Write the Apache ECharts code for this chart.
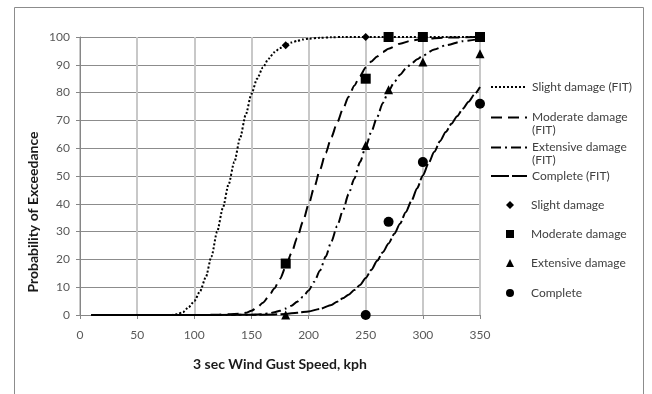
<!DOCTYPE html>
<html>
<head>
<meta charset="utf-8">
<script src="https://cdn.jsdelivr.net/npm/echarts@6/dist/echarts.min.js"></script>
<style>html,body{margin:0;padding:0;background:#fff}#c{width:652px;height:394px}</style>
</head>
<body>
<div id="c"></div>
<script>
// ---- data ----
const xTicks = [0, 50, 100, 150, 200, 250, 300, 350];
const yTicks = [0, 10, 20, 30, 40, 50, 60, 70, 80, 90, 100];
const xTitle = '3 sec Wind Gust Speed, kph';
const yTitle = 'Probability of Exceedance';

const fitNames = ['Slight damage (FIT)', 'Moderate damage (FIT)', 'Extensive damage (FIT)', 'Complete (FIT)'];
const obsNames = ['Slight damage', 'Moderate damage', 'Extensive damage', 'Complete'];

const slightFitX = [10, 50, 80, 85, 90, 95, 100, 105, 110, 115, 120, 125, 130, 135, 140, 145, 150, 155, 160, 165, 170, 175, 180, 185, 190, 195, 200, 210, 220, 230, 250, 300, 350];
const slightFitY = [0, 0, 0, 0.3, 1, 2.8, 5, 8.5, 13.5, 21, 30, 38.5, 47, 55, 63.5, 72, 79.5, 85, 89, 92.2, 94.5, 96, 97.2, 98, 98.6, 99.1, 99.4, 99.7, 99.9, 100, 100, 100, 100];

const moderateFitX = [10, 100, 120, 130, 140, 145, 150, 155, 160, 165, 170, 175, 180, 185, 190, 195, 200, 205, 210, 215, 220, 225, 230, 235, 240, 245, 250, 255, 260, 265, 270, 280, 290, 300, 320, 350];
const moderateFitY = [0, 0, 0.1, 0.3, 0.5, 0.8, 1.5, 2.7, 4.4, 6.6, 9.5, 13, 17.3, 22.2, 27.7, 33.5, 39.7, 46, 52.3, 58.3, 64, 69.2, 74, 78.5, 82.5, 86, 89, 91.2, 93, 94.6, 95.8, 97.6, 98.7, 99.3, 99.8, 100];

const extensiveFitX = [10, 130, 150, 160, 165, 170, 175, 180, 185, 190, 195, 200, 205, 210, 215, 220, 225, 230, 235, 240, 245, 250, 255, 260, 265, 270, 275, 280, 285, 290, 295, 300, 310, 320, 335, 350];
const extensiveFitY = [0, 0, 0.1, 0.3, 0.55, 1, 1.5, 2.3, 3.3, 4.8, 6.5, 8.8, 12, 16, 21, 26.5, 32, 37.5, 43.5, 49, 55, 60.5, 66, 71.2, 76.3, 80.5, 83.8, 86.4, 88.6, 90.4, 92, 93.3, 95.5, 97, 98.5, 99.3];

const completeFitX = [10, 150, 170, 180, 190, 200, 210, 220, 225, 230, 235, 240, 245, 250, 255, 260, 265, 270, 275, 280, 285, 290, 295, 300, 305, 310, 315, 320, 325, 330, 335, 340, 345, 350];
const completeFitY = [0, 0.05, 0.2, 0.4, 0.8, 1.3, 2.2, 3.6, 4.8, 6, 7.3, 9, 10.8, 13.3, 16.3, 19.5, 22.6, 25.7, 29.2, 32.8, 37, 41, 45.6, 50.2, 54.6, 58.7, 62.5, 65.8, 68.8, 71.5, 74.2, 76.7, 79.3, 82];

const slightObsX = [180, 250];
const slightObsY = [97, 100];
const moderateObsX = [180, 250, 270, 300, 350];
const moderateObsY = [18.5, 85, 100, 100, 100];
const extensiveObsX = [180, 250, 270, 300, 350];
const extensiveObsY = [0, 61, 81, 91, 94];
const completeObsX = [250, 270, 300, 350];
const completeObsY = [0, 33.5, 55, 76];

// ---- build ----
const zip = (xs, ys) => xs.map((x, i) => [x, ys[i]]);
const fitX = [slightFitX, moderateFitX, extensiveFitX, completeFitX];
const fitY = [slightFitY, moderateFitY, extensiveFitY, completeFitY];
const obsX = [slightObsX, moderateObsX, extensiveObsX, completeObsX];
const obsY = [slightObsY, moderateObsY, extensiveObsY, completeObsY];

const dashTypes = [[2, 2], [11, 6], [10, 4, 2, 4], [18, 3]];
const symbols = ['diamond', 'rect', 'triangle', 'circle'];
const symSizes = [8, 10, 9, 10];

const FONT = 'Lato';
const series = [];
for (let i = 0; i < 4; i++) {
  series.push({
    name: fitNames[i], type: 'line', symbol: 'none', smooth: 0.25, smoothMonotone: 'x',
    data: zip(fitX[i], fitY[i]), z: 3,
    lineStyle: { color: '#000', width: 2, type: dashTypes[i] },
    itemStyle: { color: '#000' }
  });
}
for (let i = 0; i < 4; i++) {
  series.push({
    name: obsNames[i], type: 'scatter', symbol: symbols[i], symbolSize: symSizes[i],
    data: zip(obsX[i], obsY[i]), z: 4,
    itemStyle: { color: '#000', opacity: 1 }
  });
}

// legend layout (positions only)
const legendCenters = [87, 117.5, 147.5, 176, 205, 234, 263, 293];
const allNames = fitNames.concat(obsNames);
const LH = 13;
const legends = allNames.map((name, i) => {
  const twoLine = (i === 1 || i === 2);
  const isObs = i >= 4;
  const w = isObs ? 8 : 36;
  const h = isObs ? 8 : 10;
  const boxH = twoLine ? 3 * LH : LH;
  return {
    data: [name], left: isObs ? 506 : 490,
    top: legendCenters[i] - Math.max(boxH, h) / 2,
    padding: 0, itemWidth: w, itemHeight: h, itemGap: 0,
    selectedMode: false,
    itemStyle: isObs ? {} : { opacity: 0 },
    formatter: twoLine ? (n) => '\n' + n.replace(' (FIT)', '\n(FIT)') : undefined,
    textStyle: {
      fontFamily: FONT, fontSize: 12, color: '#404040', lineHeight: LH,
      padding: [0, 0, 0, isObs ? 12 : 0]
    }
  };
});

const chart = echarts.init(document.getElementById('c'), null, { renderer: 'canvas' });
chart.setOption({
  animation: false,
  backgroundColor: '#fff',
  grid: { left: 80, right: 172, top: 37, bottom: 79 },
  graphic: [
    {
      type: 'rect', shape: { x: 14.5, y: 7.5, width: 629, height: 400 },
      style: { fill: null, stroke: '#8c8c8c', lineWidth: 1 }, silent: true, z: -1
    },
    {
      type: 'text', x: 33, y: 212, rotation: Math.PI / 2, silent: true,
      style: {
        text: yTitle, fill: '#1a1a1a', align: 'center', verticalAlign: 'middle',
        font: 'bold 14px Lato'
      }
    }
  ],
  legend: legends,
  xAxis: {
    type: 'value', min: xTicks[0], max: xTicks[xTicks.length - 1], interval: 50,
    name: xTitle, nameLocation: 'middle', nameGap: 42,
    nameTextStyle: { fontFamily: FONT, fontSize: 14, fontWeight: 'bold', color: '#1a1a1a' },
    axisLine: { show: true, lineStyle: { color: '#868686', width: 1 } },
    axisTick: { show: true, length: 4, lineStyle: { color: '#868686' } },
    axisLabel: { fontFamily: FONT, fontSize: 12, color: '#595959', margin: 14 },
    splitLine: { show: true, lineStyle: { color: '#c8c8c8', width: 2 } }
  },
  yAxis: {
    type: 'value', min: yTicks[0], max: yTicks[yTicks.length - 1], interval: 10,
    axisLine: { show: true, lineStyle: { color: '#868686', width: 1 } },
    axisTick: { show: true, length: 4, lineStyle: { color: '#868686' } },
    axisLabel: { fontFamily: FONT, fontSize: 12, color: '#595959', margin: 10 },
    splitLine: { show: true, lineStyle: { color: '#8c8c8c', width: 1 } }
  },
  series: series
});
</script>
</body>
</html>
